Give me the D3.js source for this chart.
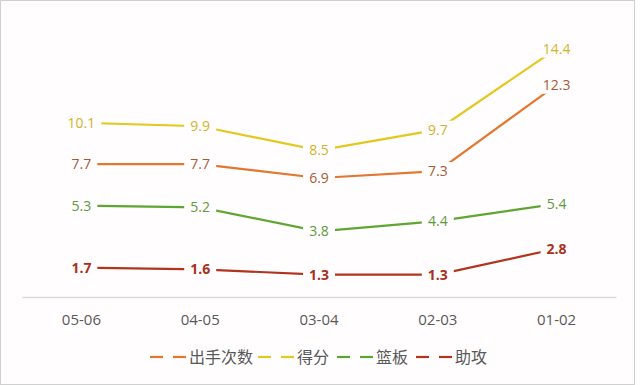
<!DOCTYPE html>
<html>
<head>
<meta charset="utf-8">
<script src="https://cdn.jsdelivr.net/npm/d3@7"></script>
<style>
  body { margin: 0; background: #fff; }
  svg { display: block; font-family: "Open Sans", "Noto Sans CJK SC", sans-serif; }
</style>
</head>
<body>
<script>
var seasons = ['05-06', '04-05', '03-04', '02-03', '01-02'];
var seriesNames = ['出手次数', '得分', '篮板', '助攻'];
var shots = [7.7, 7.7, 6.9, 7.3, 12.3];
var points = [10.1, 9.9, 8.5, 9.7, 14.4];
var rebounds = [5.3, 5.2, 3.8, 4.4, 5.4];
var assists = [1.7, 1.6, 1.3, 1.3, 2.8];

var lineColors = ['#e4772f', '#e3c81f', '#5fa631', '#b2341c'];
var labelColors = ['#a85a34', '#d4b22a', '#5c9a3c', '#a8301c'];
var seriesValues = [shots, points, rebounds, assists];

var width = 640, height = 385;
var margin = {top: 21, right: 24, bottom: 88, left: 22};

var svg = d3.select('body').append('svg')
    .attr('width', width)
    .attr('height', height);

svg.append('rect')
    .attr('x', 0.5).attr('y', 0.5)
    .attr('width', 634).attr('height', height - 1)
    .attr('fill', '#fffdfe')
    .attr('stroke', '#d0d0d0');

var x = d3.scaleBand()
    .domain(seasons)
    .range([margin.left, width - margin.right]);

var y = d3.scaleLinear()
    .domain([0, 16])
    .range([height - margin.bottom, margin.top]);

var cx = function(d) { return x(d) + x.bandwidth() / 2; };

// axis
var xAxis = svg.append('g')
    .attr('transform', 'translate(0,' + y(0) + ')')
    .call(d3.axisBottom(x).tickSize(0).tickPadding(17));
xAxis.select('.domain').attr('stroke', '#d9d9d9').attr('stroke-width', 1.3);
xAxis.selectAll('text')
    .attr('font-size', '15px')
    .attr('fill', '#595959')
    .attr('font-family', '"Open Sans", sans-serif');

var line = d3.line()
    .x(function(d, i) { return cx(seasons[i]); })
    .y(function(d) { return y(d); });

seriesValues.forEach(function(vals, si) {
  var g = svg.append('g');
  g.append('path')
    .datum(vals)
    .attr('d', line)
    .attr('fill', 'none')
    .attr('stroke', lineColors[si])
    .attr('stroke-width', 2.2);

  var lab = g.selectAll('g.lab')
    .data(vals)
    .enter().append('g')
    .attr('transform', function(d, i) {
      return 'translate(' + cx(seasons[i]) + ',' + y(d) + ')';
    });
  lab.append('rect')
    .attr('x', function(d) { return d >= 10 ? -20 : -16; })
    .attr('y', -9)
    .attr('width', function(d) { return d >= 10 ? 40 : 32; })
    .attr('height', 18)
    .attr('fill', '#fffdfe');
  lab.append('text')
    .attr('text-anchor', 'middle')
    .attr('dy', '0.36em')
    .attr('font-size', '14px')
    .attr('font-weight', si === 3 ? 'bold' : 'normal')
    .attr('fill', labelColors[si])
    .text(function(d) { return d.toFixed(1); });
});

// legend
var legend = svg.append('g').attr('transform', 'translate(0,357)');
var legendX = [150, 258, 337, 416];
seriesNames.forEach(function(name, i) {
  var row = legend.append('g').attr('transform', 'translate(' + legendX[i] + ',0)');
  row.append('line').attr('x1', 0).attr('x2', 13)
    .attr('stroke', lineColors[i]).attr('stroke-width', 2.2);
  row.append('line').attr('x1', 23).attr('x2', 36)
    .attr('stroke', lineColors[i]).attr('stroke-width', 2.2);
  row.append('text')
    .attr('x', 39)
    .attr('dy', '0.36em')
    .attr('font-size', '16px')
    .attr('fill', '#595959')
    .attr('font-family', '"Noto Sans CJK SC", sans-serif')
    .text(name);
});
</script>
</body>
</html>
